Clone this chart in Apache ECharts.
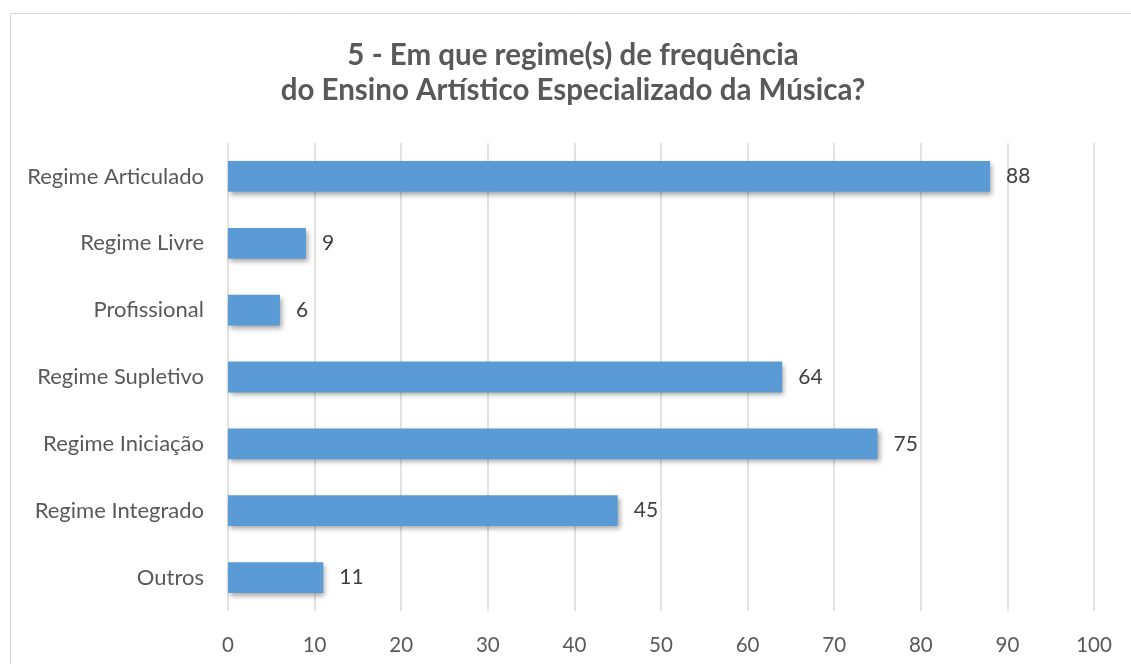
<!DOCTYPE html>
<html>
<head>
<meta charset="utf-8">
<script src="https://cdn.jsdelivr.net/npm/echarts@6/dist/echarts.min.js"></script>
<style>
  html, body { margin: 0; padding: 0; background: #fff; }
  #chart { width: 1131px; height: 664px; }
</style>
</head>
<body>
<div id="chart"></div>
<script>
var titleLines = ['5 - Em que regime(s) de frequência', 'do Ensino Artístico Especializado da Música?'];
var categories = ['Regime Articulado', 'Regime Livre', 'Profissional', 'Regime Supletivo', 'Regime Iniciação', 'Regime Integrado', 'Outros'];
var counts = [88, 9, 6, 64, 75, 45, 11];

var chart = echarts.init(document.getElementById('chart'));

chart.setOption({
    animation: false,
    textStyle: { fontFamily: 'Lato' },
    graphic: [{
        type: 'rect',
        left: 8, top: 11,
        shape: { width: 1200, height: 700 },
        style: { fill: 'none', stroke: '#d9d9d9', lineWidth: 1 },
        silent: true
    }],
    title: {
        text: titleLines.join('\n'),
        left: 568,
        top: 33,
        textAlign: 'center',
        textStyle: {
            fontFamily: 'Lato',
            fontWeight: 'bold',
            fontSize: 29.5,
            lineHeight: 35,
            color: '#595959'
        }
    },
    grid: { left: 228, right: 37, top: 143, bottom: 53 },
    xAxis: {
        type: 'value',
        min: 0, max: 100, interval: 10,
        axisLine: { show: false },
        axisTick: { show: false },
        splitLine: { lineStyle: { color: '#d9d9d9', width: 1.5 } },
        axisLabel: { color: '#595959', fontSize: 20.5, margin: 24 }
    },
    yAxis: {
        type: 'category',
        inverse: true,
        data: categories,
        axisLine: { show: false },
        axisTick: { show: false },
        axisLabel: { color: '#595959', fontSize: 22, margin: 24 }
    },
    series: [{
        type: 'bar',
        data: counts,
        barWidth: '46%',
        itemStyle: {
            color: '#5b9bd5',
            shadowColor: 'rgba(0,0,0,0.35)',
            shadowBlur: 5,
            shadowOffsetX: 2,
            shadowOffsetY: 3
        },
        label: {
            show: true,
            position: 'right',
            distance: 16,
            color: '#404040',
            fontSize: 21
        }
    }]
});
</script>
</body>
</html>
